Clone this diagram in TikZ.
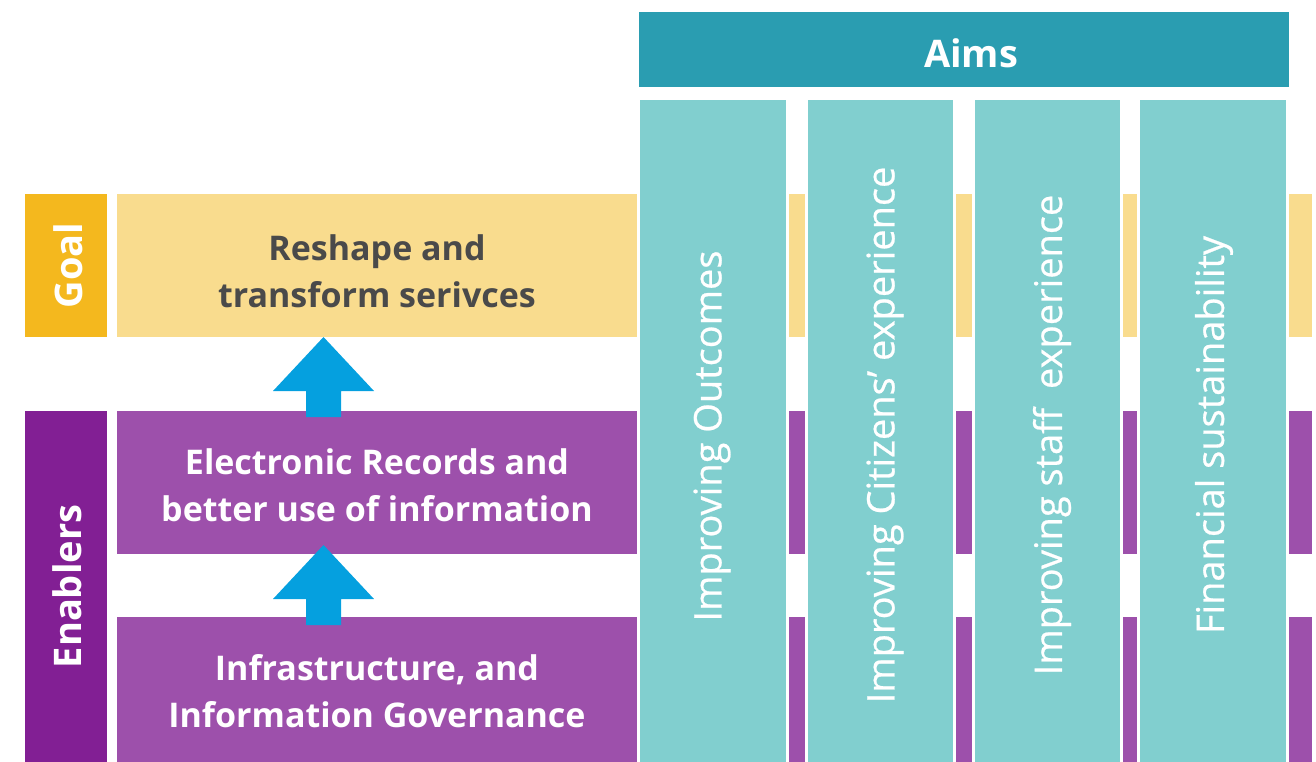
\documentclass[tikz,border=0pt]{standalone}
\usepackage{fontspec}
\setmainfont{Open Sans}
\newfontfamily\colfont[FakeBold=0.6]{Open Sans}
\begin{document}
\begin{tikzpicture}[x=1pt,y=-1pt,
  blk/.style={inner sep=0pt, outer sep=0pt, draw=none},
  col/.style={blk, fill=colfill, draw=white, line width=3pt},
  lbl/.style={text=white, font=\fontsize{38}{42}\selectfont\bfseries, rotate=90},
  bandtxt/.style={align=center, font=\fontsize{34}{47}\selectfont\bfseries},
  coltxt/.style={text=white, font=\colfont\fontsize{38}{42}\selectfont, rotate=90},
  uparrow/.style={fill=arrowblue, draw=none}]
\definecolor{aimsteal}{HTML}{2A9DB1}
\definecolor{colfill}{HTML}{81CFCF}
\definecolor{goaldark}{HTML}{F4B81E}
\definecolor{goallight}{HTML}{F9DC8E}
\definecolor{enabdark}{HTML}{821F94}
\definecolor{enablight}{HTML}{9D50AB}
\definecolor{arrowblue}{HTML}{05A0DF}
\definecolor{txtgray}{HTML}{4A4A4A}
\useasboundingbox (0,0) rectangle (1316,762);

% left-hand labels
\node[blk, fill=goaldark, minimum width=82pt, minimum height=143pt] (goal) at (65.5,265.5) {};
\node[lbl] (goallbl) at ([xshift=3pt]goal.center) {Goal};
\node[blk, fill=enabdark, minimum width=82pt, minimum height=351pt] (enab) at (65.5,586.5) {};
\node[lbl] (enablbl) at ([xshift=2pt]enab.center) {Enablers};

% horizontal bands, running behind the aim columns
\node[blk, fill=goallight, minimum width=1195pt, minimum height=143pt, anchor=north west] (gband) at (116.5,194) {};
\node[blk, fill=enablight, minimum width=1195pt, minimum height=143pt, anchor=north west] (eband) at (116.5,411) {};
\node[blk, fill=enablight, minimum width=1195pt, minimum height=145pt, anchor=north west] (iband) at (116.5,617) {};

\node[bandtxt, text=txtgray] (gtxt) at (377,271) {Reshape and\\transform serivces};
\node[bandtxt, text=white] (etxt) at (377,485) {Electronic Records and\\better use of information};
\node[bandtxt, text=white] (itxt) at (377,691) {Infrastructure, and\\Information Governance};

% aims header
\node[blk, fill=aimsteal, minimum width=650pt, minimum height=75pt, anchor=north west] (aims) at (638.5,12) {};
\node[text=white, font=\fontsize{38}{42}\selectfont\bfseries] (aimstxt) at (971,53) {Aims};

% aim columns (white outline separates them from the bands)
\node[col, minimum width=149pt, minimum height=666pt, anchor=north west] (c1) at (638.5,98.5) {};
\node[col, minimum width=148pt, minimum height=666pt, anchor=north west] (c2) at (806.5,98.5) {};
\node[col, minimum width=148pt, minimum height=666pt, anchor=north west] (c3) at (973.5,98.5) {};
\node[col, minimum width=149pt, minimum height=666pt, anchor=north west] (c4) at (1138.5,98.5) {};

\node[coltxt] (c1t) at (712,436) {Improving Outcomes};
\node[coltxt] (c2t) at (885,435) {Improving Citizens’ experience};
\node[coltxt] (c3t) at (1052,435) {Improving staff\hspace{0.5em}experience};
\node[coltxt] (c4t) at (1214,435) {Financial sustainability};

% block arrows between the bands
\coordinate (a1) at (323.5,337);
\coordinate (a2) at (323.5,545);
\foreach \t in {a1, a2}{
  \fill[uparrow] (\t) -- ++(50.5,54) -- ++(-33,0) -- ++(0,26) -- ++(-35,0) -- ++(0,-26) -- ++(-33,0) -- cycle;
}
\end{tikzpicture}
\end{document}
